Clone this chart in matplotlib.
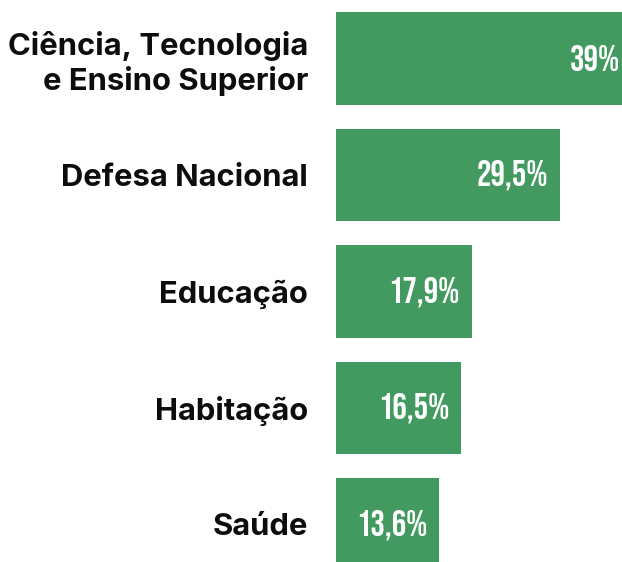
import matplotlib
matplotlib.use('Agg')
import matplotlib.pyplot as plt

# Percentagem por área
areas = ['Ciência, Tecnologia\ne Ensino Superior', 'Defesa Nacional',
         'Educação', 'Habitação', 'Saúde']
valores = [39, 29.5, 17.9, 16.5, 13.6]
rotulos = ['39%', '29,5%', '17,9%', '16,5%', '13,6%']

verde = '#429a60'

fig = plt.figure(figsize=(6.22, 5.62), dpi=100)
ax = fig.add_axes([336 / 622, 0, 1 - 336 / 622, 1])

pos = list(range(len(areas)))
ax.barh(pos, valores, height=0.794, color=verde)

# escala: ~7.59 px por ponto percentual, a primeira barra sai da figura
ax.set_xlim(0, 286 / 7.59)
ax.set_ylim(4.324, -0.5)

ax.set_yticks(pos, areas)
ax.tick_params(axis='y', length=0, pad=20)
for t in ax.get_yticklabels():
    t.set_fontfamily(['Inter', 'DejaVu Sans'])
    t.set_fontweight('bold')
    t.set_fontsize(22.3)
    t.set_color('#0d0d0d')
    t.set_linespacing(1.2)
ax.set_xticks([])
for s in ax.spines.values():
    s.set_visible(False)

for y, v, r in zip(pos, valores, rotulos):
    ax.annotate(r, xy=(v, y), xytext=(-8.6, 0), textcoords='offset points',
                ha='right', va='center', color='white', fontsize=26,
                family=['Bebas Neue', 'DejaVu Sans'], annotation_clip=False)

fig.savefig('out.png', dpi=100)
